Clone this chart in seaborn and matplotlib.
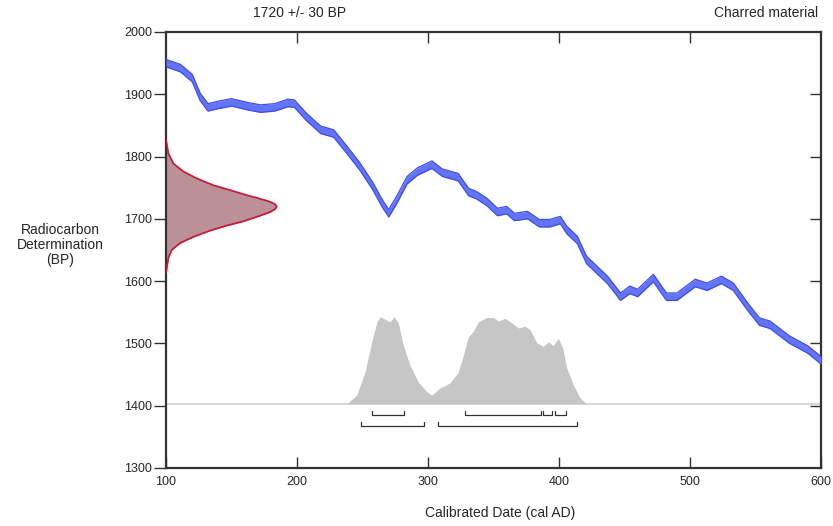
import numpy as np
import pandas as pd
import seaborn as sns
import matplotlib.pyplot as plt

# calibration curve (cal AD vs BP)
cal_year = [100, 111, 120, 126, 132, 140, 150, 162, 172, 183, 193, 198, 207, 218, 228, 238,
            248, 258, 265, 270, 276, 284, 292, 303, 311, 323, 331, 337, 345, 353, 360, 366,
            376, 385, 393, 401, 406, 414, 421, 429, 437, 447, 454, 460, 472, 482, 490, 504,
            513, 524, 533, 544, 553, 561, 576, 590, 600]
cal_bp = [1950, 1942, 1926, 1896, 1879, 1883, 1887, 1881, 1877, 1879, 1886, 1885, 1864, 1843,
          1837, 1811, 1784, 1752, 1725, 1709, 1730, 1762, 1776, 1787, 1774, 1767, 1743, 1738,
          1727, 1711, 1714, 1703, 1706, 1693, 1693, 1698, 1682, 1666, 1634, 1618, 1602, 1575,
          1586, 1581, 1605, 1575, 1575, 1597, 1591, 1602, 1591, 1559, 1535, 1530, 1506, 1490,
          1473]

# radiocarbon determination (BP) - curve width in years from the axis
c14_bp = [1613, 1637, 1650, 1661, 1671, 1681, 1689, 1696, 1705, 1711, 1716, 1720, 1724,
          1728, 1733, 1738, 1746, 1754, 1765, 1776, 1789, 1805, 1827]
c14_width = [0, 1.8, 4.3, 10.7, 20.8, 33.6, 46, 59, 71.8, 79.5, 83.5, 84.5, 83, 78.5, 70.5,
             61.6, 49, 36, 23.4, 13.2, 5.6, 1.8, 0]

# calibrated probability (relative height)
prob_year = [238, 245.6, 252, 257, 261, 263.4, 267.2, 271, 274, 277.3, 281, 286, 292.6, 299,
             302.8, 309, 316.8, 323, 327, 330.8, 334.6, 338.4, 344.8, 349.9, 353.7, 358.8,
             363.9, 369, 374, 377.9, 383, 388, 391.8, 395.6, 399.5, 402.8, 405.9, 410.9, 416,
             421]
prob_rel = [0, 0.10, 0.37, 0.71, 0.94, 1.0, 0.97, 0.94, 1.0, 0.93, 0.68, 0.45, 0.25, 0.14,
            0.10, 0.18, 0.24, 0.36, 0.56, 0.77, 0.83, 0.94, 0.99, 0.99, 0.95, 0.98, 0.93,
            0.87, 0.89, 0.85, 0.70, 0.66, 0.71, 0.67, 0.75, 0.64, 0.41, 0.22, 0.07, 0]

# calibrated ranges
ranges_68 = [(257, 282), (328, 386), (388, 395), (397, 405)]
ranges_95 = [(249, 297), (308, 414)]

BASE_BP = 1403
PROB_SCALE = 140
band = 6

sns.set_theme(style="white")
plt.rcParams['font.family'] = ['Liberation Sans', 'DejaVu Sans']

fig = plt.figure(figsize=(8.33, 5.26), dpi=100)
ax = fig.add_axes([0.1993, 0.1103, 0.7863, 0.8289])

cal = pd.DataFrame({"year": cal_year, "bp": cal_bp})
ax.fill_between(cal.year, cal.bp - band, cal.bp + band, color="#6474F6", lw=0, zorder=3)
sns.lineplot(x=cal.year, y=cal.bp + band, ax=ax, color="#3F4FE4", lw=0.9, zorder=4)
sns.lineplot(x=cal.year, y=cal.bp - band, ax=ax, color="#3F4FE4", lw=0.9, zorder=4)

# baseline + calibrated probability
ax.axhline(BASE_BP, color="#d0d0d0", lw=1.2, zorder=1)
prob = pd.DataFrame({"year": prob_year, "h": np.array(prob_rel) * PROB_SCALE + BASE_BP})
ax.fill_between(prob.year, BASE_BP, prob.h, color="#c6c6c6", lw=0, zorder=2)

# radiocarbon age distribution on the y axis
c14 = pd.DataFrame({"bp": c14_bp, "x": 100 + np.array(c14_width)})
ax.fill_betweenx(c14.bp, 100, c14.x, color="#BC9097", lw=0, zorder=2)
ax.plot(c14.x, c14.bp, color="#C41E3A", lw=1.3, zorder=3, solid_joinstyle="round")

# range brackets
def bracket(x0, x1, y):
    ax.plot([x0, x0, x1, x1], [y + 6, y, y, y + 6], color="#333333", lw=0.9, zorder=3)

for a, b in ranges_68:
    bracket(a, b, 1385)
for a, b in ranges_95:
    bracket(a, b, 1368)

ax.set_xlim(100, 600)
ax.set_ylim(1300, 2000)
ax.set_xticks(range(100, 601, 100))
ax.set_yticks(range(1300, 2001, 100))
ax.set_xlabel("")
ax.set_ylabel("")
for s in ax.spines.values():
    s.set_color("#333333")
    s.set_linewidth(1.6)
    s.set_visible(True)
ax.tick_params(axis="x", direction="in", length=8, width=1, color="#333333",
               labelsize=9, pad=6, bottom=True)
ax.tick_params(axis="y", direction="out", length=9, width=1, color="#333333",
               labelsize=9, pad=1, left=True)

top = ax.secondary_xaxis("top")
top.set_xticks(range(200, 600, 100))
top.tick_params(direction="in", length=8, width=1, color="#333333", labeltop=False, top=True)
top.spines["top"].set_visible(False)
right = ax.secondary_yaxis("right")
right.set_yticks(range(1400, 2000, 100))
right.tick_params(direction="in", length=8, width=1, color="#333333", labelright=False, right=True)
right.spines["right"].set_visible(False)

fig.text(300 / 833, 1 - 13 / 526, "1720 +/- 30 BP", ha="center", va="center", fontsize=10)
fig.text(818 / 833, 1 - 13 / 526, "Charred material", ha="right", va="center", fontsize=10)
fig.text(60 / 833, 1 - 245 / 526, "Radiocarbon\nDetermination\n(BP)", ha="center",
         va="center", fontsize=10, linespacing=1.1)
fig.text(500 / 833, 1 - 513 / 526, "Calibrated Date (cal AD)", ha="center", va="center",
         fontsize=10)

fig.savefig("out.png", dpi=100)
